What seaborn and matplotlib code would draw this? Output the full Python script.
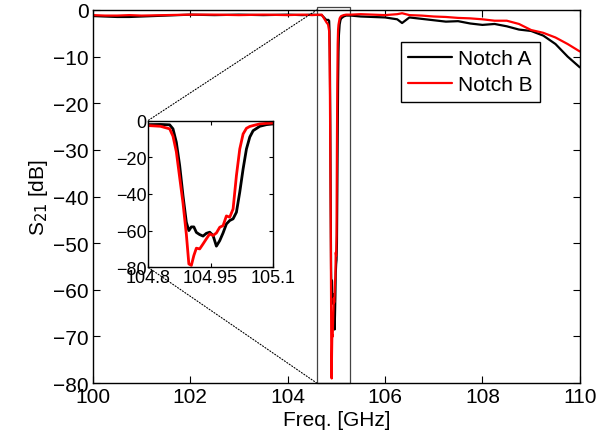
import numpy as np
import pandas as pd
import seaborn as sns
import matplotlib
matplotlib.use("Agg")
import matplotlib.pyplot as plt
from matplotlib.patches import Rectangle, ConnectionPatch

# data (GHz, dB)
freq_left = [100, 100.25, 100.5, 100.75, 101, 101.5, 102, 102.5, 103, 103.5, 104, 104.3, 104.5, 104.7]
a_left = [-1.3, -1.4, -1.5, -1.5, -1.4, -1.2, -1.0, -1.1, -1.0, -1.1, -1.0, -1.1, -1.0, -1.1]
b_left = [-1.1, -1.2, -1.2, -1.1, -1.2, -1.1, -1.0, -1.0, -1.1, -1.0, -1.1, -1.0, -1.1, -1.0]

freq_notch = [104.8, 104.83, 104.852, 104.86, 104.868, 104.876, 104.884, 104.892, 104.898, 104.904,
              104.91, 104.916, 104.924, 104.932, 104.94, 104.948, 104.956, 104.964, 104.972, 104.98,
              104.988, 104.996, 105.004, 105.012, 105.02, 105.028, 105.036, 105.044, 105.052,
              105.068, 105.084, 105.1]
a_notch = [-2.2, -2.1, -2.3, -4.5, -11.8, -24.5, -41, -55.5, -60, -58,
           -58, -61, -62.2, -63, -61.5, -60.9, -62.7, -68.5, -65.5, -61.3,
           -56.4, -54.5, -53.6, -50, -39, -26.4, -15.5, -9, -5.5,
           -3.1, -2.2, -1.8]
b_notch = [-2.7, -3.1, -4.5, -8.5, -17, -31, -45, -62, -78.2, -79,
           -73.6, -69.6, -70, -67.3, -64.5, -61.8, -62.7, -61.3, -58.2, -57.3,
           -52, -52.7, -48.2, -30, -15.5, -7.3, -4.2, -3.2, -2.7,
           -1.8, -1.5, -1.3]

freq_right = [105.15, 105.2, 105.3, 105.5, 105.75, 106, 106.25, 106.35, 106.5, 106.75, 107, 107.25,
              107.5, 107.75, 108, 108.25, 108.5, 108.75, 109, 109.25, 109.5, 109.75, 110]
a_right = [-1.4, -1.2, -1.2, -1.4, -1.5, -1.6, -2.0, -2.8, -1.6, -1.9, -2.2, -2.5,
           -2.4, -2.9, -3.2, -3.0, -3.5, -4.2, -4.5, -5.5, -7.3, -10.0, -12.3]
b_right = [-1.1, -1.0, -1.0, -0.9, -1.0, -1.1, -0.9, -0.7, -1.1, -1.2, -1.4, -1.5,
           -1.7, -1.8, -2.0, -2.3, -2.3, -3.0, -4.3, -4.9, -5.9, -7.3, -8.9]

series = ["Notch A", "Notch B"]
colors = ["black", "red"]

freq = freq_left + freq_notch + freq_right
df = pd.DataFrame({
    "freq": freq * 2,
    "s21": a_left + a_notch + a_right + b_left + b_notch + b_right,
    "series": [series[0]] * len(freq) + [series[1]] * len(freq),
})
inset = df[(df.freq >= 104.8) & (df.freq <= 105.1)]

sns.set_style("ticks")
plt.rcParams["font.family"] = ["Liberation Sans", "DejaVu Sans"]
plt.rcParams["xtick.direction"] = "in"
plt.rcParams["ytick.direction"] = "in"
plt.rcParams["axes.edgecolor"] = "black"
plt.rcParams["axes.linewidth"] = 1.0
plt.rcParams["text.color"] = "black"
plt.rcParams["axes.labelcolor"] = "black"
plt.rcParams["xtick.color"] = "black"
plt.rcParams["ytick.color"] = "black"

fig = plt.figure(figsize=(5.99, 4.39), dpi=100)
ax = fig.add_axes([0.155, 0.125, 0.813, 0.85])
sns.lineplot(data=df, x="freq", y="s21", hue="series", palette=colors, lw=1.6,
             estimator=None, sort=False, ax=ax)
ax.set_xlim(100, 110)
ax.set_ylim(-80, 0)
ax.set_xticks(range(100, 111, 2))
ax.set_yticks(range(-80, 1, 10))
ax.tick_params(labelsize=15, length=5, top=True, right=True, pad=3)
ax.set_xlabel("Freq. [GHz]", fontsize=15, labelpad=3)
ax.set_ylabel("S$_{21}$ [dB]", fontsize=15, labelpad=2)
leg = ax.legend(loc="upper right", bbox_to_anchor=(0.918, 0.915), fontsize=15, fancybox=False,
                edgecolor="black", framealpha=1, handlelength=2.1, borderpad=0.35,
                labelspacing=0.35, handletextpad=0.3, borderaxespad=0)
leg.get_frame().set_linewidth(1.0)
for l in leg.get_lines():
    l.set_linewidth(1.6)

# zoom box
ax.add_patch(Rectangle((104.6, -80), 0.68, 80.6, fill=False, ec="#444444", lw=0.9, clip_on=False))

ins = fig.add_axes([0.247, 0.389, 0.209, 0.334])
sns.lineplot(data=inset, x="freq", y="s21", hue="series", palette=colors, lw=2,
             estimator=None, sort=False, ax=ins, legend=False)
ins.set_xlim(104.8, 105.1)
ins.set_ylim(-80, 0)
ins.set_xticks([104.8, 104.95, 105.1])
ins.set_xticklabels(["104.8", "104.95", "105.1"])
ins.set_yticks([-80, -60, -40, -20, 0])
ins.tick_params(labelsize=13, length=3, top=True, right=True, pad=1)
ins.set_xlabel("")
ins.set_ylabel("")

for yv, yi in [(0, 1), (-80, 0)]:
    con = ConnectionPatch(xyA=(104.6, yv), coordsA=ax.transData, xyB=(0, yi),
                          coordsB=ins.transAxes, ls=":", color="black", lw=0.8)
    fig.add_artist(con)

fig.savefig("out.png", dpi=100)
